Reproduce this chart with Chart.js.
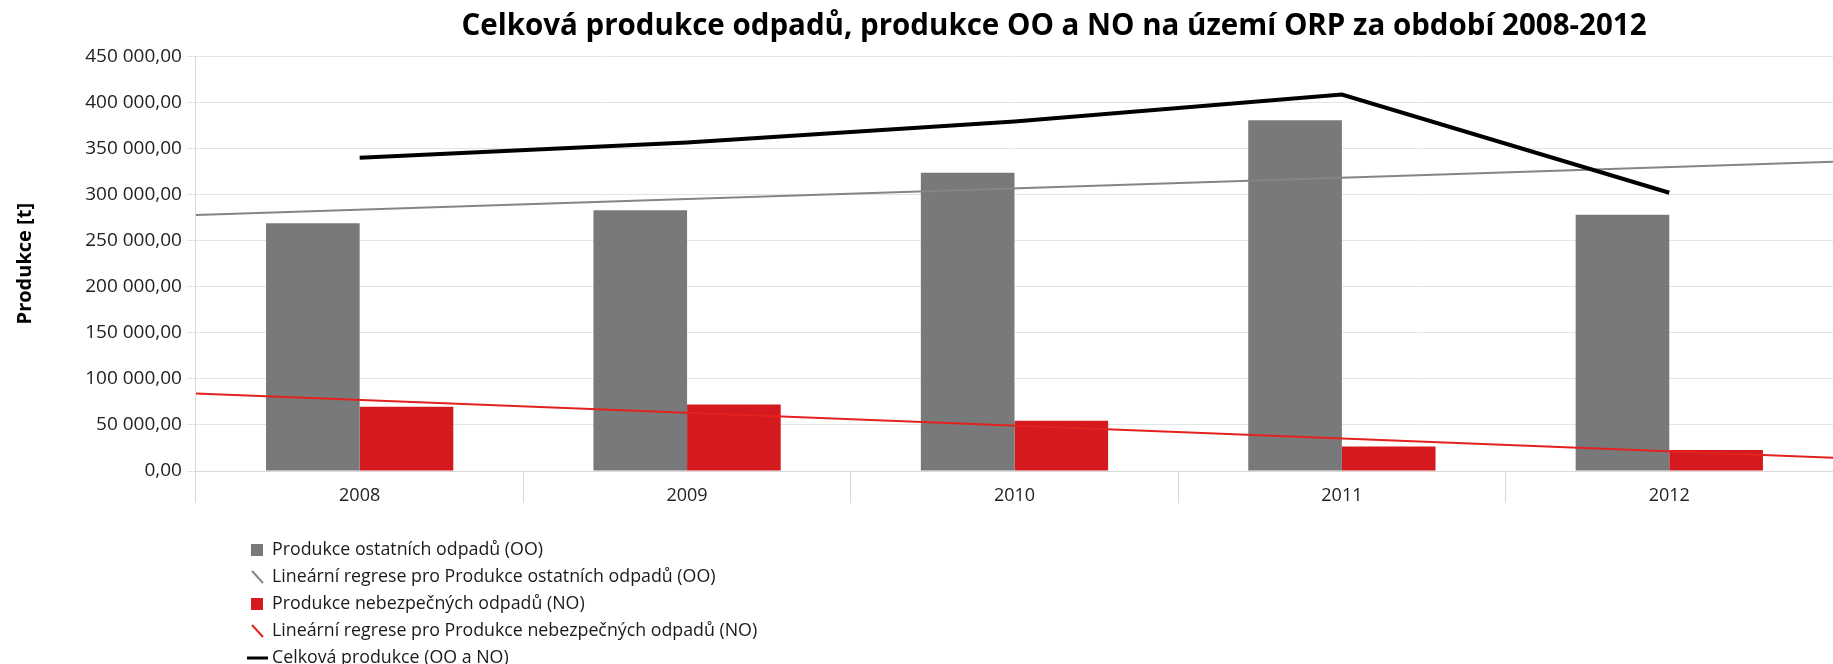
<!DOCTYPE html>
<html>
<head>
<meta charset="utf-8">
<script src="https://cdn.jsdelivr.net/npm/chart.js@4/dist/chart.umd.min.js"></script>
<style>
  body { margin: 0; background: #fff; }
  #wrap { position: relative; width: 1833px; height: 664px; }
  #legend { position: absolute; left: 246px; top: 535px; font-family: 'Open Sans', sans-serif; font-size: 17.8px; color: #1a1a1a; }
  #legend div { height: 27px; line-height: 27px; white-space: nowrap; }
  #legend canvas { vertical-align: middle; margin-right: 4px; }
</style>
</head>
<body>
<div id="wrap">
  <canvas id="odpadyChart"></canvas>
  <div id="legend"></div>
</div>
<script>
// data (t)
const years = ['2008', '2009', '2010', '2011', '2012'];
const ostatni = [269000, 283000, 323600, 380700, 278000];      // OO
const nebezpecne = [69800, 72300, 54600, 26600, 22800];        // NO
const celkem = [340100, 356600, 379400, 408600, 302000];       // OO a NO

const labelOO = 'Produkce ostatních odpadů (OO)';
const labelNO = 'Produkce nebezpečných odpadů (NO)';
const labelTrendOO = 'Lineární regrese pro Produkce ostatních odpadů (OO)';
const labelTrendNO = 'Lineární regrese pro Produkce nebezpečných odpadů (NO)';
const labelTotal = 'Celková produkce (OO a NO)';

const font = "'Open Sans', sans-serif";

// least squares fit y = a + b*i over the category indexes
function fit(values) {
  const n = values.length;
  const mx = (n - 1) / 2;
  const my = values.reduce((s, v) => s + v, 0) / n;
  let sxy = 0, sxx = 0;
  values.forEach((v, i) => { sxy += (i - mx) * (v - my); sxx += (i - mx) * (i - mx); });
  const b = sxy / sxx;
  return { a: my - b * mx, b: b };
}

const trends = [
  { label: labelTrendOO, values: ostatni, color: '#858585', width: 2 },
  { label: labelTrendNO, values: nebezpecne, color: '#e3211f', width: 2 }
];

// excel style trend lines, across the whole plot area, under the total line
const trendPlugin = {
  id: 'trendLines',
  beforeDatasetDraw(chart, args) {
    if (args.meta.type !== 'line') return;
    const { ctx, scales: { x, y } } = chart;
    const n = years.length;
    trends.forEach(t => {
      const f = fit(t.values);
      ctx.save();
      ctx.strokeStyle = t.color;
      ctx.lineWidth = t.width;
      ctx.beginPath();
      ctx.moveTo(x.getPixelForValue(-0.5), y.getPixelForValue(f.a - 0.5 * f.b));
      ctx.lineTo(x.getPixelForValue(n - 0.5), y.getPixelForValue(f.a + (n - 0.5) * f.b));
      ctx.stroke();
      ctx.restore();
    });
  }
};

// move the title over the plot like in the original
const titleShift = {
  id: 'titleShift',
  afterLayout(chart) {
    if (chart.titleBlock) chart.titleBlock.left = 275;
  }
};

function czNum(v) {
  return Math.round(v).toString().replace(/\B(?=(\d{3})+(?!\d))/g, ' ') + ',00';
}

const chart = new Chart(document.getElementById('odpadyChart'), {
  type: 'bar',
  data: {
    labels: years,
    datasets: [
      { label: labelOO, data: ostatni, backgroundColor: '#78797b', order: 2 },
      { label: labelNO, data: nebezpecne, backgroundColor: '#d41a1f', order: 2 },
      { type: 'line', label: labelTotal, data: celkem, borderColor: '#000', borderWidth: 4,
        pointRadius: 0, tension: 0, order: 1 }
    ]
  },
  plugins: [trendPlugin, titleShift],
  options: {
    responsive: true,
    maintainAspectRatio: false,
    animation: false,
    datasets: { bar: { barPercentage: 1, categoryPercentage: 0.572 } },
    layout: { padding: { left: 0, right: 0, top: 0, bottom: 153 } },
    plugins: {
      legend: { display: false },
      tooltip: { enabled: false },
      title: {
        display: true,
        text: 'Celková produkce odpadů, produkce OO a NO na území ORP za období 2008-2012',
        color: '#000',
        font: { family: font, size: 29.5, weight: 'bold' },
        padding: { top: 9, bottom: 12 }
      }
    },
    scales: {
      x: {
        grid: { offset: true, drawOnChartArea: false, drawTicks: true, tickLength: 32, color: '#d9d9d9' },
        border: { color: '#d9d9d9' },
        ticks: { color: '#222', padding: -18, font: { family: font, size: 18 } },
        afterFit: s => { s.height = 40; }
      },
      y: {
        min: 0, max: 450000,
        ticks: { stepSize: 50000, color: '#222', padding: 5, font: { family: font, size: 19 }, callback: v => czNum(v) },
        grid: { color: '#e4e4e4', tickLength: 9 },
        border: { color: '#d9d9d9' },
        title: {
          display: true, text: 'Produkce [t]', color: '#000',
          font: { family: font, size: 20, weight: 'bold' },
          padding: { top: 13.5, bottom: 42.7 }
        }
      }
    }
  }
});

// html legend, one item per row like the original
const legendItems = [
  { label: labelOO, kind: 'box', color: '#78797b' },
  { label: labelTrendOO, kind: 'trend', color: trends[0].color },
  { label: labelNO, kind: 'box', color: '#d41a1f' },
  { label: labelTrendNO, kind: 'trend', color: trends[1].color },
  { label: labelTotal, kind: 'line', color: '#000' }
];
const legendEl = document.getElementById('legend');
legendItems.forEach(it => {
  const row = document.createElement('div');
  const c = document.createElement('canvas');
  c.width = 22; c.height = 16;
  const g = c.getContext('2d');
  if (it.kind === 'box') {
    g.fillStyle = it.color; g.fillRect(5, 2, 12, 12);
  } else if (it.kind === 'trend') {
    g.strokeStyle = it.color; g.lineWidth = 2;
    g.beginPath(); g.moveTo(6, 2); g.lineTo(17, 14); g.stroke();
  } else {
    g.strokeStyle = it.color; g.lineWidth = 3;
    g.beginPath(); g.moveTo(1, 8); g.lineTo(22, 8); g.stroke();
  }
  row.appendChild(c);
  row.appendChild(document.createTextNode(it.label));
  legendEl.appendChild(row);
});
</script>
</body>
</html>
